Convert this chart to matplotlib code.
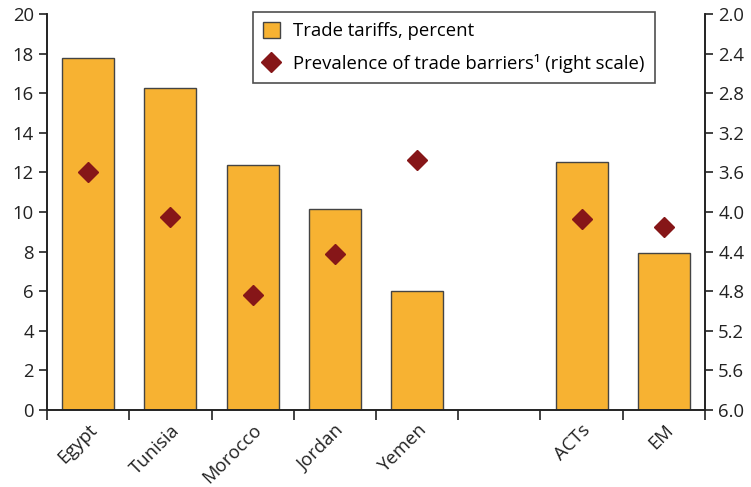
import numpy as np
import matplotlib
matplotlib.use("Agg")
import matplotlib.pyplot as plt

plt.rcParams['font.family'] = ['Open Sans', 'DejaVu Sans']

categories = ["Egypt", "Tunisia", "Morocco", "Jordan", "Yemen", "", "ACTs", "EM"]
tariffs = [17.76, 16.28, 12.36, 10.14, 6.0, np.nan, 12.51, 7.95]
barriers = [3.60, 4.05, 4.84, 4.42, 3.47, np.nan, 4.07, 4.15]
left_ticks = [0, 2, 4, 6, 8, 10, 12, 14, 16, 18, 20]
right_ticks = [2.0, 2.4, 2.8, 3.2, 3.6, 4.0, 4.4, 4.8, 5.2, 5.6, 6.0]

FS = 13.3

fig = plt.figure(figsize=(7.51, 4.87), dpi=100)
ax = fig.add_axes([0.0626, 0.158, 0.8761, 0.813])
ax2 = ax.twinx()

x = np.arange(len(categories))
ax.bar(x, tariffs, width=0.63, color="#F7B232", edgecolor="#444444", linewidth=1.0,
       label="Trade tariffs, percent", zorder=2)
ax2.plot(x, barriers, linestyle="none", marker="D", markersize=10, color="#861618",
         label="Prevalence of trade barriers¹ (right scale)", zorder=3)

ax.set_xlim(-0.5, len(categories) - 0.5)
ax.set_ylim(0, 20)
ax.set_yticks(left_ticks)
ax2.set_ylim(6.0, 2.0)
ax2.set_yticks(right_ticks)
ax2.set_yticklabels([f"{v:.1f}" for v in right_ticks])

ax.set_xticks(np.arange(-0.5, len(categories), 1.0))
ax.set_xticklabels([])
ax.set_xticks(x, minor=True)
ax.set_xticklabels(categories, minor=True, rotation=45, ha="right", rotation_mode="anchor")
ax.tick_params(axis="x", which="major", direction="out", length=7, width=1.2, color="#222222")
ax.tick_params(axis="x", which="minor", length=0, pad=8, labelsize=FS, colors="#222222")
ax.tick_params(axis="y", direction="out", length=6, width=1.2, labelsize=FS, colors="#222222")
ax2.tick_params(axis="y", direction="out", length=6, width=1.2, labelsize=FS, colors="#222222")

for a in (ax, ax2):
    a.spines["top"].set_visible(False)
    for s in ("left", "right", "bottom"):
        a.spines[s].set_linewidth(1.2)
        a.spines[s].set_color("#222222")

h1, l1 = ax.get_legend_handles_labels()
h2, l2 = ax2.get_legend_handles_labels()
leg = ax2.legend(h1 + h2, l1 + l2, loc="upper right", bbox_to_anchor=(0.924, 1.005),
                 borderaxespad=0.0,
                 fontsize=FS, frameon=True, fancybox=False, edgecolor="#222222",
                 borderpad=0.55, handlelength=0.9, handleheight=0.9, handletextpad=0.75,
                 labelspacing=0.75)
leg.get_frame().set_linewidth(1.2)

fig.savefig("out.png", dpi=100)
